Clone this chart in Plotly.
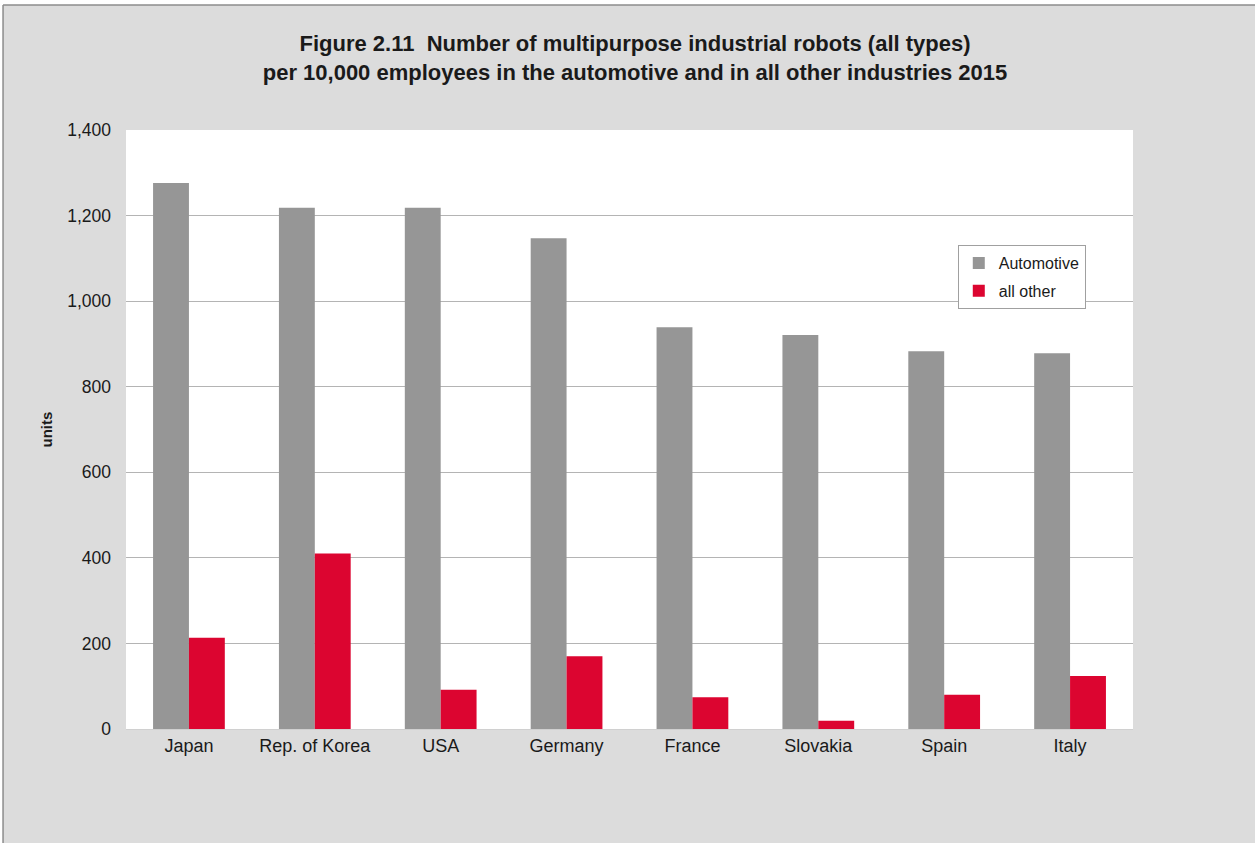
import plotly.graph_objects as go

# Robot density per 10,000 employees, 2015
countries = ["Japan", "Rep. of Korea", "USA", "Germany", "France", "Slovakia", "Spain", "Italy"]
automotive = [1276, 1218, 1218, 1147, 939, 921, 883, 878]
all_other = [213, 410, 92, 170, 74, 19, 80, 124]

y_ticks = [0, 200, 400, 600, 800, 1000, 1200, 1400]
y_tick_text = ["0", "200", "400", "600", "800", "1,000", "1,200", "1,400"]

GRAY_BAR = "#969696"
RED_BAR = "#DC0530"
BG = "#DCDCDC"
FONT = "Liberation Sans, Arial, sans-serif"

fig = go.Figure()
fig.add_trace(go.Bar(name="Automotive", x=countries, y=automotive,
                     marker=dict(color=GRAY_BAR, line=dict(width=0)),
                     legendgroup="a"))
fig.add_trace(go.Bar(name="all other", x=countries, y=all_other,
                     marker=dict(color=RED_BAR, line=dict(width=0)),
                     legendgroup="b"))

fig.update_layout(
    width=1255, height=843,
    margin=dict(l=126, r=122, t=130, b=114),
    paper_bgcolor=BG,
    plot_bgcolor="white",
    barmode="group",
    bargap=0.43,
    bargroupgap=0,
    font=dict(family=FONT, size=18, color="#1a1a1a"),
    title=dict(
        text="<b>Figure 2.11  Number of multipurpose industrial robots (all types)<br>"
             "per 10,000 employees in the automotive and in all other industries 2015</b>",
        x=0.506, xanchor="center", y=0.939, yanchor="top",
        font=dict(family=FONT, size=22, color="#1a1a1a"),
    ),
    legend=dict(
        x=0.826, xanchor="left", y=0.808, yanchor="top",
        bgcolor="white", bordercolor="#a0a0a0", borderwidth=1,
        font=dict(family=FONT, size=16, color="#1a1a1a"),
        traceorder="grouped", tracegroupgap=4,
        itemwidth=30,
    ),
    xaxis=dict(
        showgrid=False, showline=True, linecolor="#d0d0d0", linewidth=1,
        ticks="", tickfont=dict(size=18),
    ),
    yaxis=dict(
        range=[0, 1400], tickvals=y_ticks, ticktext=y_tick_text,
        showgrid=True, gridcolor="#b4b4b4", gridwidth=1,
        zeroline=False, showline=False, ticks="",
        ticklabelstandoff=14, tickfont=dict(size=17.5),
    ),
    showlegend=True,
)

# vertical axis caption
fig.add_annotation(text="<b>units</b>", xref="paper", yref="paper",
                   x=-0.0785, xanchor="center", y=0.5, yanchor="middle",
                   textangle=-90, showarrow=False,
                   font=dict(family=FONT, size=15, color="#1a1a1a"))

# white frame strip and gray border around the chart panel
fig.add_shape(type="rect", xref="paper", yref="paper",
              x0=-0.13, x1=1.13, y0=1.2087, y1=1.23,
              fillcolor="white", line=dict(width=0), layer="above")
fig.add_shape(type="rect", xref="paper", yref="paper",
              x0=-0.13, x1=-0.1221, y0=-0.2, y1=1.23,
              fillcolor="white", line=dict(width=0), layer="above")
fig.add_shape(type="line", xref="paper", yref="paper",
              x0=-0.1221, x1=1.13, y0=1.2087, y1=1.2087,
              line=dict(color="#8c8c8c", width=1.5), layer="above")
fig.add_shape(type="line", xref="paper", yref="paper",
              x0=-0.1221, x1=-0.1221, y0=-0.2, y1=1.2087,
              line=dict(color="#8c8c8c", width=1.5), layer="above")

fig.write_html("out.html")
